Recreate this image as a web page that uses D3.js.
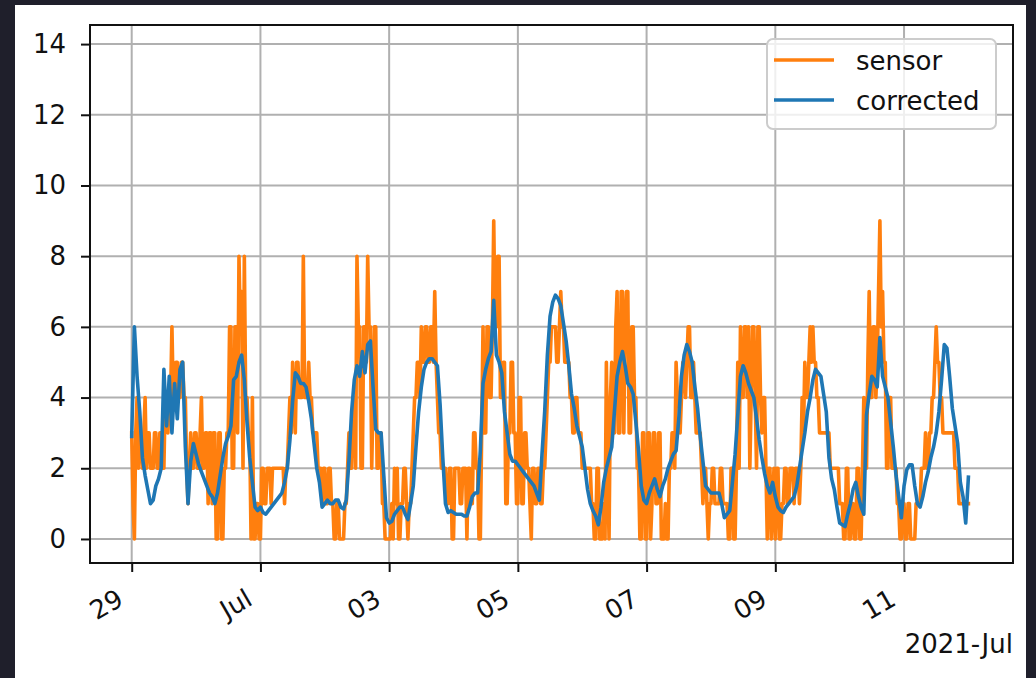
<!DOCTYPE html>
<html>
<head>
<meta charset="utf-8">
<script src="https://cdn.jsdelivr.net/npm/d3@7"></script>
<style>
  html, body { margin: 0; padding: 0; background: #1f1f2b; }
  svg { display: block; }
  text { font-family: "DejaVu Sans", sans-serif; fill: #111; }
</style>
</head>
<body>
<svg id="chart" width="1036" height="678"></svg>
<script>
// Sensor readings every 30 minutes from 2021-06-29 00:00 (UTC), one row per day.
const sensor = [
  3,1,0,3,4,2,3,3,2,3,4,2,3,3,2,2,2,3,3,2,2,3,3,2,2,4,4,3,4,4,6,4,4,5,5,4,4,5,5,4,4,2,1,2,3,2,2,3,
  3,2,2,3,4,2,2,3,3,1,3,3,1,3,3,0,0,3,3,0,0,2,2,3,3,6,6,2,2,6,6,3,8,6,7,2,8,4,4,3,3,0,4,0,0,1,1,0,
  0,2,2,1,1,2,2,2,1,2,2,2,2,2,2,2,2,2,1,2,2,3,4,3,5,4,3,5,5,4,4,4,8,4,4,4,5,4,4,3,3,3,3,2,2,2,1,2,
  2,1,1,2,2,1,1,0,0,1,1,0,0,0,0,1,1,2,3,2,2,4,4,2,8,6,6,2,2,6,6,5,8,6,6,2,4,6,6,2,2,3,3,1,1,0,0,0,
  0,0,1,0,2,1,2,0,0,1,1,2,2,1,0,1,1,2,3,4,4,5,5,4,6,5,5,6,6,5,5,6,6,5,7,5,4,3,3,2,2,2,2,1,1,2,2,0,
  0,2,2,2,2,1,1,2,2,2,0,2,2,1,1,3,3,2,2,0,0,3,6,3,3,6,6,4,4,6,9,6,6,8,8,4,4,5,5,1,1,3,3,5,5,3,3,1,
  1,4,4,1,1,3,3,2,2,1,0,2,2,1,1,2,2,1,1,2,2,3,4,5,5,6,6,6,6,5,5,6,7,6,6,5,5,5,5,4,4,3,3,4,4,3,3,3,
  2,2,2,2,2,2,2,1,1,0,0,2,2,0,0,0,1,0,5,2,0,4,5,3,3,6,7,3,3,7,7,3,6,7,7,3,3,6,6,4,4,2,2,0,0,3,3,0,
  0,3,3,0,1,3,3,1,1,3,3,0,0,0,1,0,0,2,2,3,3,2,5,4,4,3,4,5,5,4,5,6,6,4,4,5,4,3,3,3,3,2,1,2,2,1,0,1,
  1,2,2,1,1,1,1,2,2,1,1,1,1,0,0,2,2,0,0,2,5,2,6,4,4,6,6,4,6,2,4,6,6,4,2,6,6,4,3,4,4,2,0,2,2,0,1,2,
  0,2,2,0,0,1,1,2,2,1,1,2,2,2,1,2,2,2,1,2,4,3,5,4,4,5,6,5,6,5,5,4,4,3,3,3,3,3,3,3,3,2,2,2,2,2,2,2,
  1,1,1,0,0,2,2,0,0,1,1,0,0,2,2,0,0,2,4,2,2,5,7,4,4,6,6,4,5,7,9,6,7,5,5,2,2,4,4,2,2,2,2,1,1,0,0,1,
  1,0,0,1,1,0,0,0,0,1,1,1,1,2,2,2,3,2,2,3,3,4,4,5,6,5,5,4,4,3,3,3,3,3,3,3,3,3,2,2,2,1,1,1,1,1,1,1,
  1
];

// Corrected values every hour over the same period, one row per day.
const corrected = [
  2.9,6.0,4.6,3.6,2.3,1.8,1.4,1.0,1.1,1.5,1.7,2.0,4.8,3.2,4.6,3.0,4.4,3.4,4.8,5.0,2.6,1.0,2.2,2.7,
  2.4,2.1,1.9,1.7,1.5,1.3,1.2,1.0,1.3,1.8,2.3,2.7,2.9,3.2,4.5,4.6,5.0,5.2,4.5,3.3,2.3,1.6,0.9,0.8,
  0.9,0.75,0.7,0.8,0.9,1.0,1.1,1.2,1.3,1.6,2.0,2.8,3.9,4.7,4.6,4.4,4.4,4.3,3.9,3.4,2.7,2.0,1.6,0.9,
  1.0,1.1,1.0,1.0,1.1,1.1,0.9,0.85,1.1,2.2,3.6,4.5,4.9,4.6,5.3,4.7,5.5,5.6,4.3,3.1,3.0,3.0,1.8,0.6,
  0.45,0.5,0.7,0.8,0.9,0.9,0.7,0.55,1.0,1.5,2.6,3.6,4.3,4.8,5.0,5.1,5.1,5.0,4.9,3.8,2.3,1.0,0.75,0.8,
  0.75,0.7,0.7,0.7,0.65,0.65,0.9,1.2,1.3,1.3,2.5,4.4,4.8,5.1,5.3,6.75,5.2,5.0,4.7,3.6,3.0,2.4,2.2,2.2,
  2.1,2.0,1.9,1.8,1.7,1.6,1.5,1.3,1.1,2.4,3.6,5.2,6.3,6.7,6.9,6.8,6.6,6.1,5.6,4.9,4.1,3.7,3.2,2.9,
  2.6,2.0,1.4,1.0,0.8,0.65,0.4,0.9,1.6,2.0,2.3,2.6,3.6,4.6,5.0,5.3,4.9,4.4,4.3,4.1,3.3,2.5,1.5,1.1,
  1.0,1.3,1.5,1.7,1.4,1.2,1.5,1.7,2.0,2.2,2.4,2.5,3.4,4.6,5.2,5.5,5.3,5.0,4.3,3.7,2.9,2.2,1.5,1.4,
  1.3,1.3,1.3,1.3,1.0,0.6,0.7,0.8,1.6,2.4,3.5,4.6,4.9,4.7,4.4,4.2,4.0,3.4,2.8,2.3,1.85,1.5,1.3,1.6,
  1.2,0.9,0.8,0.75,0.9,1.0,1.1,1.2,1.5,2.0,2.5,3.0,3.6,4.0,4.5,4.8,4.7,4.6,4.1,3.6,2.3,1.7,1.4,0.9,
  0.45,0.4,0.35,0.7,1.0,1.4,1.6,1.2,0.9,0.7,3.5,4.1,4.6,4.5,4.3,5.7,4.6,4.3,4.0,3.3,2.6,1.8,1.2,0.6,
  1.5,1.95,2.1,2.1,1.5,1.0,0.9,1.2,1.6,1.9,2.3,2.6,3.0,3.6,4.5,5.5,5.4,4.6,3.7,3.2,2.7,1.6,1.2,0.45,
  1.75
];

const seriesNames = ["sensor", "corrected"];
const seriesColors = ["#ff7f0e", "#1f77b4"];
const seriesStepMinutes = [30, 60];

const xTickDates = ["2021-06-29", "2021-07-01", "2021-07-03", "2021-07-05", "2021-07-07", "2021-07-09", "2021-07-11"];
const xTickLabels = ["29", "Jul", "03", "05", "07", "09", "11"];
const yTicks = [0, 2, 4, 6, 8, 10, 12, 14];
const offsetLabel = "2021-Jul";

(function draw() {
  const MIN = 60 * 1000, DAY = 24 * 60 * MIN;
  const start = Date.UTC(2021, 5, 29);

  // plot frame
  const m = { left: 90, right: 1013, top: 25, bottom: 563 };

  const svg = d3.select("#chart");

  // figure panel
  svg.append("rect").attr("x", 15).attr("y", 5).attr("width", 1011).attr("height", 680).attr("fill", "#ffffff");

  const x = d3.scaleUtc()
    .domain([new Date(start - 0.648 * DAY), new Date(start + 13.693 * DAY)])
    .range([m.left, m.right]);
  const y = d3.scaleLinear().domain([-0.68, 14.54]).range([m.bottom, m.top]);

  const tickDates = xTickDates.map(s => new Date(s + "T00:00:00Z"));

  // grid
  const grid = svg.append("g").attr("stroke", "#b0b0b0").attr("stroke-width", 2);
  grid.selectAll("line.v").data(tickDates).join("line").attr("class", "v")
    .attr("x1", d => x(d)).attr("x2", d => x(d)).attr("y1", m.top).attr("y2", m.bottom);
  grid.selectAll("line.h").data(yTicks).join("line").attr("class", "h")
    .attr("x1", m.left).attr("x2", m.right).attr("y1", d => y(d)).attr("y2", d => y(d));

  // series lines
  svg.append("clipPath").attr("id", "plotclip").append("rect")
    .attr("x", m.left).attr("y", m.top).attr("width", m.right - m.left).attr("height", m.bottom - m.top);

  const plot = svg.append("g").attr("clip-path", "url(#plotclip)");
  [sensor, corrected].forEach((vals, k) => {
    const step = seriesStepMinutes[k] * MIN;
    const line = d3.line().x((d, i) => x(new Date(start + i * step))).y(d => y(d));
    plot.append("path").datum(vals)
      .attr("fill", "none")
      .attr("stroke", seriesColors[k])
      .attr("stroke-width", 3.6)
      .attr("stroke-linejoin", "round")
      .attr("stroke-linecap", "square")
      .attr("d", line);
  });

  // axes
  const xAxis = svg.append("g").attr("transform", `translate(0,${m.bottom})`)
    .call(d3.axisBottom(x).tickValues(tickDates).tickFormat((d, i) => xTickLabels[i]).tickSize(9).tickSizeOuter(0));
  xAxis.select(".domain").remove();
  xAxis.selectAll(".tick line").attr("stroke", "#111").attr("stroke-width", 2);
  xAxis.selectAll(".tick text")
    .attr("x", 0).attr("y", 0).attr("dy", null)
    .attr("text-anchor", "end")
    .attr("transform", "translate(-7,41) rotate(-30)")
    .style("font-size", "26px").style("font-family", "DejaVu Sans, sans-serif").attr("fill", "#111");

  const yAxis = svg.append("g").attr("transform", `translate(${m.left},0)`)
    .call(d3.axisLeft(y).tickValues(yTicks).tickSize(9).tickPadding(15).tickSizeOuter(0));
  yAxis.select(".domain").remove();
  yAxis.selectAll(".tick line").attr("stroke", "#111").attr("stroke-width", 2);
  yAxis.selectAll(".tick text")
    .style("font-size", "26px").style("font-family", "DejaVu Sans, sans-serif").attr("fill", "#111");

  svg.append("rect").attr("x", m.left).attr("y", m.top).attr("width", m.right - m.left).attr("height", m.bottom - m.top)
    .attr("fill", "none").attr("stroke", "#111").attr("stroke-width", 2);

  // date offset label
  svg.append("text").attr("x", m.right).attr("y", 653).attr("text-anchor", "end")
    .style("font-size", "26px").text(offsetLabel);

  // legend
  const lg = svg.append("g");
  lg.append("rect").attr("x", 767).attr("y", 39).attr("width", 229).attr("height", 90).attr("rx", 6)
    .attr("fill", "#ffffff").attr("fill-opacity", 0.8).attr("stroke", "#cccccc").attr("stroke-width", 2);
  seriesNames.forEach((name, k) => {
    const cy = 60 + k * 40;
    lg.append("line").attr("x1", 774).attr("x2", 834).attr("y1", cy).attr("y2", cy)
      .attr("stroke", seriesColors[k]).attr("stroke-width", 3.6);
    lg.append("text").attr("x", 856).attr("y", cy + 10).style("font-size", "26px").text(name);
  });
})();
</script>
</body>
</html>
